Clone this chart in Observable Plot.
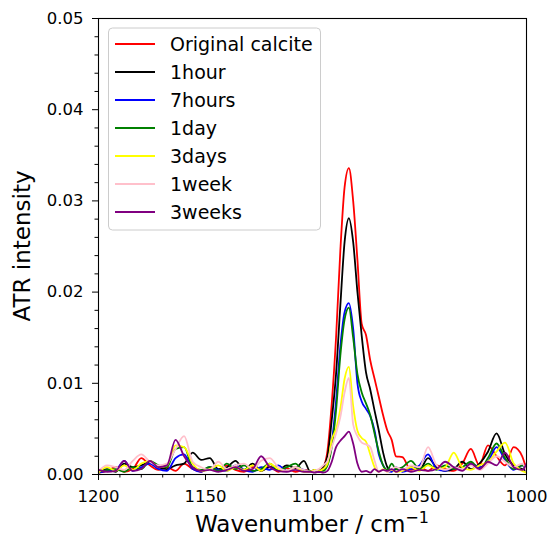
<!DOCTYPE html>
<html><head><meta charset="utf-8">
<script src="https://cdn.jsdelivr.net/npm/d3@7"></script>
<script src="https://cdn.jsdelivr.net/npm/@observablehq/plot@0.6"></script>
<style>body{margin:0;background:#fff;} svg{font-family:"DejaVu Sans";}</style>
</head><body><div id="chart"></div>
<script>
const wavenumber = [1200,1196,1192,1188,1184,1180,1176,1172,1168,1164,1160,1156,1152,1148,1144,1140,1136,1132,1128,1124,1120,1116,1112,1108,1104,
  1101,1099,1097,1095,1093,1091,1089,1087,1085,1083,1081,1079,1077,1075,1073,1071,1069,1067,1065,1063,1061,
  1058,1054,1050,1046,1042,1038,1034,1030,1026,1022,1018,1014,1010,1006,1002,1000];

const seriesNames = ["Original calcite","1hour","7hours","1day","3days","1week","3weeks"];
const seriesColors = ["red","black","blue","green","yellow","pink","purple"];

const originalCalcite = [0.0002,0.0004,0.0008,0.0003,0.0006,0.0018,0.0010,0.0005,0.0008,0.0004,0.0012,0.0006,0.0003,0.0008,0.0004,0.0010,0.0005,0.0003,0.0008,0.0004,0.0009,0.0003,0.0007,0.0003,0.0005,
 0.0004,0.0003,0.0004,0.0008,0.0026,0.0078,0.0150,0.0245,0.0315,0.0336,0.0300,0.0235,0.0165,0.0153,0.0125,0.0105,0.0085,0.0065,0.0048,0.0038,0.0020,
 0.0019,0.0005,0.0008,0.0004,0.0010,0.0006,0.0004,0.0012,0.0028,0.0010,0.0032,0.0020,0.0010,0.0030,0.0020,0.0005];
const oneHour = [0.0003,0.0006,0.0003,0.0012,0.0008,0.0010,0.0014,0.0008,0.0006,0.0010,0.0012,0.0024,0.0016,0.0018,0.0006,0.0008,0.0015,0.0005,0.0012,0.0004,0.0008,0.0005,0.0010,0.0007,0.0015,
 0.0003,0.0005,0.0003,0.0008,0.0020,0.0060,0.0110,0.0185,0.0255,0.0281,0.0255,0.0200,0.0152,0.0112,0.0093,0.0070,0.0048,0.0024,0.0008,0.0004,0.0006,
 0.0004,0.0008,0.0005,0.0018,0.0008,0.0004,0.0006,0.0014,0.0006,0.0012,0.0025,0.0045,0.0022,0.0010,0.0006,0.0004];
const sevenHours = [0.0002,0.0004,0.0005,0.0015,0.0004,0.0008,0.0012,0.0006,0.0004,0.0018,0.0022,0.0006,0.0003,0.0008,0.0005,0.0004,0.0010,0.0005,0.0003,0.0008,0.0005,0.0010,0.0004,0.0008,0.0005,
 0.0003,0.0004,0.0003,0.0005,0.0012,0.0035,0.0080,0.0140,0.0178,0.0188,0.0160,0.0100,0.0080,0.0072,0.0064,0.0048,0.0022,0.0010,0.0004,0.0003,0.0008,
 0.0003,0.0006,0.0010,0.0022,0.0006,0.0004,0.0008,0.0005,0.0012,0.0008,0.0014,0.0030,0.0016,0.0005,0.0010,0.0004];
const oneDay = [0.0003,0.0005,0.0006,0.0003,0.0008,0.0006,0.0015,0.0010,0.0008,0.0028,0.0030,0.0008,0.0005,0.0008,0.0004,0.0012,0.0006,0.0010,0.0004,0.0006,0.0012,0.0005,0.0008,0.0012,0.0004,
 0.0004,0.0003,0.0005,0.0004,0.0010,0.0030,0.0070,0.0130,0.0170,0.0183,0.0150,0.0110,0.0090,0.0078,0.0065,0.0045,0.0025,0.0010,0.0005,0.0012,0.0006,
 0.0008,0.0015,0.0006,0.0012,0.0005,0.0010,0.0006,0.0008,0.0014,0.0006,0.0018,0.0034,0.0018,0.0006,0.0010,0.0005];
const threeDays = [0.0002,0.0008,0.0004,0.0010,0.0005,0.0012,0.0015,0.0008,0.0010,0.0032,0.0030,0.0012,0.0004,0.0006,0.0010,0.0004,0.0008,0.0005,0.0010,0.0004,0.0012,0.0006,0.0004,0.0008,0.0003,
 0.0003,0.0005,0.0004,0.0006,0.0012,0.0038,0.0050,0.0072,0.0105,0.0118,0.0075,0.0048,0.0040,0.0036,0.0022,0.0008,0.0003,0.0006,0.0003,0.0005,0.0003,
 0.0004,0.0008,0.0004,0.0010,0.0006,0.0008,0.0024,0.0008,0.0005,0.0010,0.0014,0.0025,0.0035,0.0012,0.0004,0.0002];
const oneWeek = [0.0004,0.0010,0.0008,0.0005,0.0015,0.0022,0.0014,0.0010,0.0012,0.0028,0.0042,0.0014,0.0008,0.0005,0.0014,0.0006,0.0010,0.0012,0.0006,0.0015,0.0018,0.0008,0.0004,0.0008,0.0005,
 0.0003,0.0004,0.0006,0.0010,0.0015,0.0030,0.0045,0.0063,0.0090,0.0106,0.0055,0.0042,0.0035,0.0033,0.0030,0.0015,0.0003,0.0005,0.0003,0.0006,0.0008,
 0.0005,0.0010,0.0008,0.0030,0.0010,0.0005,0.0008,0.0006,0.0010,0.0005,0.0012,0.0020,0.0014,0.0008,0.0012,0.0004];
const threeWeeks = [0.0005,0.0003,0.0004,0.0015,0.0004,0.0006,0.0015,0.0008,0.0010,0.0038,0.0020,0.0008,0.0004,0.0005,0.0003,0.0005,0.0008,0.0004,0.0006,0.0020,0.0008,0.0004,0.0003,0.0005,0.0003,
 0.0003,0.0002,0.0003,0.0002,0.0004,0.0014,0.0030,0.0037,0.0042,0.0047,0.0034,0.0012,0.0003,0.0004,0.0002,0.0006,0.0003,0.0005,0.0004,0.0006,0.0003,
 0.0006,0.0003,0.0005,0.0004,0.0006,0.0014,0.0008,0.0004,0.0012,0.0006,0.0014,0.0010,0.0024,0.0008,0.0005,0.0012];

const xMajorTicks = [1200,1150,1100,1050,1000];
const xMinorTicks = [1190,1180,1170,1160,1140,1130,1120,1110,1090,1080,1070,1060,1040,1030,1020,1010];
const yMajorTicks = [0,0.01,0.02,0.03,0.04,0.05];
const yMinorTicks = [0.002,0.004,0.006,0.008,0.012,0.014,0.016,0.018,0.022,0.024,0.026,0.028,0.032,0.034,0.036,0.038,0.042,0.044,0.046,0.048];

const seriesValues = [originalCalcite, oneHour, sevenHours, oneDay, threeDays, oneWeek, threeWeeks];
const rows = seriesNames.flatMap((name, i) => wavenumber.map((w, j) => ({wavenumber: w, intensity: seriesValues[i][j], series: name})));

const chart = Plot.plot({
  width: 553, height: 537,
  marginLeft: 98, marginRight: 27, marginTop: 18, marginBottom: 63,
  style: {fontFamily: "DejaVu Sans", fontSize: "16.5px", background: "white", color: "black", overflow: "visible"},
  x: {domain: [1200, 1000]},
  y: {domain: [0, 0.05]},
  color: {domain: seriesNames, range: seriesColors},
  marks: [
    Plot.line(rows, {x: "wavenumber", y: "intensity", z: "series", stroke: "series", strokeWidth: 1.8, curve: "monotone-x", clip: true}),
    Plot.frame({stroke: "black", strokeWidth: 1.1}),
    Plot.axisX({ticks: xMinorTicks, tickSize: 3.5, tickFormat: () => "", label: null}),
    Plot.axisX({ticks: xMajorTicks, tickSize: 6, tickPadding: 10, tickFormat: d => String(d), label: null, fontSize: 16.5}),
    Plot.axisY({ticks: yMinorTicks, tickSize: 3.5, tickFormat: () => "", label: null}),
    Plot.axisY({ticks: yMajorTicks, tickSize: 6, tickPadding: 9, tickFormat: d3.format(".2f"), label: null, fontSize: 16.5})
  ]
});
document.getElementById("chart").appendChild(chart);

const svg = d3.select(chart);
// axis labels
const xl = svg.append("text").attr("x", 312).attr("y", 532).attr("text-anchor", "middle")
  .attr("font-size", 23).attr("fill", "black");
xl.append("tspan").text("Wavenumber / cm");
xl.append("tspan").attr("dy", -9).attr("font-size", 16).text("−1");
svg.append("text").attr("transform", "translate(30,246) rotate(-90)").attr("text-anchor", "middle")
  .attr("font-size", 23).attr("fill", "black").text("ATR intensity");

// legend
const lg = svg.append("g");
lg.append("rect").attr("x", 108.5).attr("y", 28).attr("width", 212).attr("height", 202).attr("rx", 4)
  .attr("fill", "white").attr("fill-opacity", 0.8).attr("stroke", "#cccccc");
seriesNames.forEach((name, i) => {
  const y = 44 + 28 * i;
  lg.append("line").attr("x1", 115).attr("x2", 155).attr("y1", y).attr("y2", y)
    .attr("stroke", seriesColors[i]).attr("stroke-width", 1.8);
  lg.append("text").attr("x", 170).attr("y", y).attr("dy", "0.35em").attr("font-size", 19)
    .attr("text-anchor", "start").attr("fill", "black").text(name);
});
</script>
</body></html>
